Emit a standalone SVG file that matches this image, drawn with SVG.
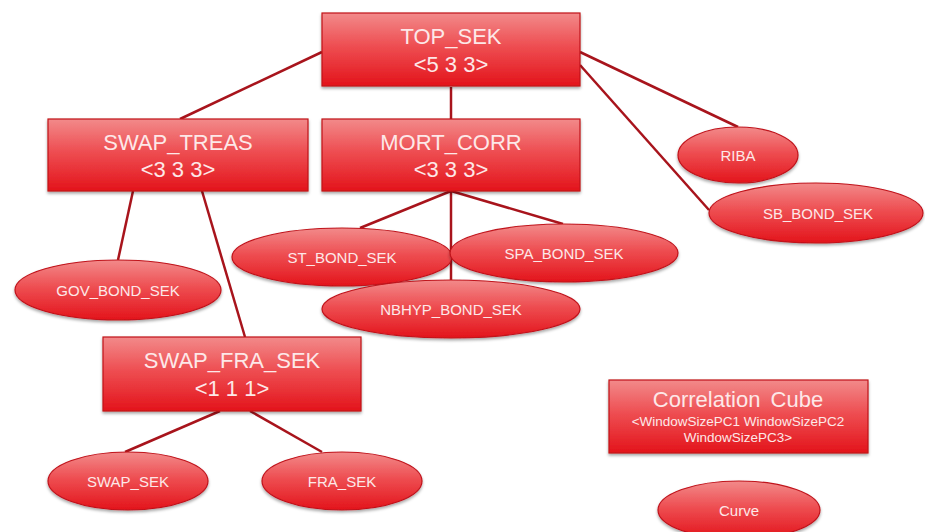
<svg xmlns="http://www.w3.org/2000/svg" width="925" height="532" viewBox="0 0 925 532">
<defs>
<linearGradient id="g" x1="0" y1="0" x2="0" y2="1">
<stop offset="0" stop-color="#f28a8a"/>
<stop offset="0.45" stop-color="#ee4e52"/>
<stop offset="1" stop-color="#e3141b"/>
</linearGradient>
<filter id="sh" x="-10%" y="-10%" width="120%" height="130%">
<feDropShadow dx="0" dy="2" stdDeviation="1.5" flood-color="#000" flood-opacity="0.35"/>
</filter>
</defs>
<style>
.n{fill:url(#g);stroke:#c0121a;stroke-width:1.2;filter:url(#sh)}
.t{fill:#fde8e8;font-family:"Liberation Sans",Arial,sans-serif;text-anchor:middle}
.big{font-size:22px}
.sm{font-size:15px}
.xs{font-size:13.5px}
.c line{stroke:#a8141c;stroke-width:2.5}
</style>
<rect width="925" height="532" fill="#fff"/>
<g class="c" id="connectors">
<line x1="322" y1="52" x2="180" y2="119"/>
<line x1="451" y1="87" x2="451" y2="119"/>
<line x1="580" y1="52" x2="738" y2="127"/>
<line x1="580" y1="65" x2="709" y2="210"/>
<line x1="133" y1="191" x2="118" y2="260"/>
<line x1="202" y1="191" x2="245" y2="337"/>
<line x1="451" y1="191" x2="360" y2="228"/>
<line x1="451" y1="191" x2="563" y2="224"/>
<line x1="451" y1="191" x2="451" y2="280"/>
<line x1="220" y1="411" x2="125" y2="452"/>
<line x1="250" y1="411" x2="322" y2="452"/>
</g>
<g id="top_sek"><rect class="n" x="322" y="13" width="258" height="73"/><text class="t big" x="451" y="44">TOP_SEK</text><text class="t big" x="451" y="72">&lt;5 3 3&gt;</text></g>
<g id="swap_treas"><rect class="n" x="48" y="119" width="260" height="72"/><text class="t big" x="178" y="150">SWAP_TREAS</text><text class="t big" x="178" y="177">&lt;3 3 3&gt;</text></g>
<g id="mort_corr"><rect class="n" x="322" y="119" width="258" height="72"/><text class="t big" x="451" y="150">MORT_CORR</text><text class="t big" x="451" y="177">&lt;3 3 3&gt;</text></g>
<g id="swap_fra_sek"><rect class="n" x="103" y="337" width="258" height="74"/><text class="t big" x="232" y="368">SWAP_FRA_SEK</text><text class="t big" x="232" y="396">&lt;1 1 1&gt;</text></g>
<g id="correlation_cube"><rect class="n" x="609" y="380" width="259" height="73"/><text class="t big" x="738" y="407" word-spacing="4">Correlation Cube</text><text class="t xs" x="738" y="426">&lt;WindowSizePC1 WindowSizePC2</text><text class="t xs" x="738" y="442">WindowSizePC3&gt;</text></g>
<g id="riba"><ellipse class="n" cx="738" cy="155" rx="60" ry="28"/><text class="t sm" x="738" y="161">RIBA</text></g>
<g id="sb_bond_sek"><ellipse class="n" cx="816" cy="213" rx="107" ry="30"/><text class="t sm" x="818" y="219">SB_BOND_SEK</text></g>
<g id="gov_bond_sek"><ellipse class="n" cx="118" cy="290" rx="103" ry="30"/><text class="t sm" x="118" y="296">GOV_BOND_SEK</text></g>
<g id="st_bond_sek"><ellipse class="n" cx="342" cy="257" rx="110" ry="29"/><text class="t sm" x="342" y="263">ST_BOND_SEK</text></g>
<g id="spa_bond_sek"><ellipse class="n" cx="564" cy="253" rx="114" ry="29"/><text class="t sm" x="564" y="259">SPA_BOND_SEK</text></g>
<g id="nbhyp_bond_sek"><ellipse class="n" cx="451" cy="309" rx="129" ry="29"/><text class="t sm" x="451" y="315">NBHYP_BOND_SEK</text></g>
<g id="swap_sek"><ellipse class="n" cx="128" cy="481" rx="80" ry="29"/><text class="t sm" x="128" y="487">SWAP_SEK</text></g>
<g id="fra_sek"><ellipse class="n" cx="342" cy="481" rx="80" ry="29"/><text class="t sm" x="342" y="487">FRA_SEK</text></g>
<g id="curve"><ellipse class="n" cx="739" cy="510" rx="81" ry="29"/><text class="t sm" x="739" y="516">Curve</text></g>
</svg>
